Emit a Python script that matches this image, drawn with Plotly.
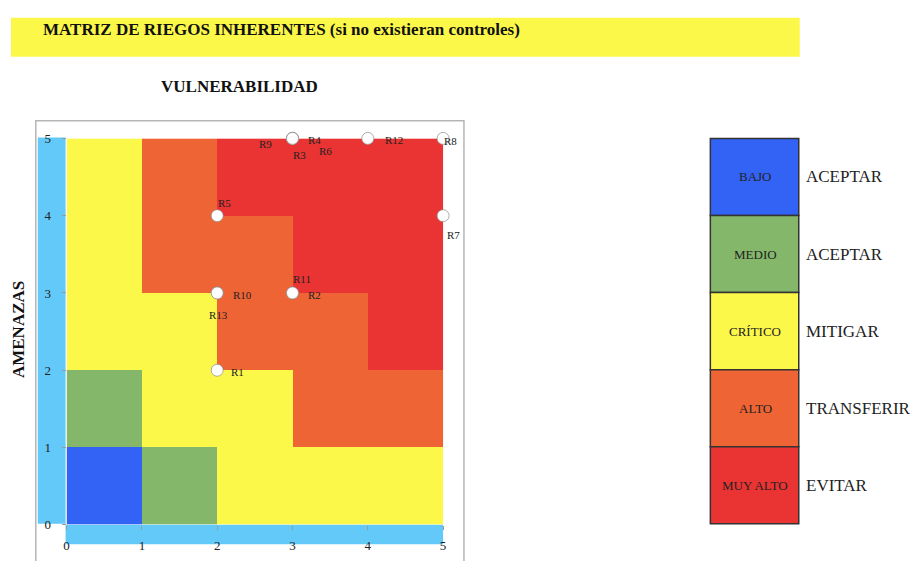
import plotly.graph_objects as go

W, H = 917, 561

# ---------------- data ----------------
level_names = ["BAJO", "MEDIO", "CRÍTICO", "ALTO", "MUY ALTO"]
level_actions = ["ACEPTAR", "ACEPTAR", "MITIGAR", "TRANSFERIR", "EVITAR"]
level_colors = ["#3363F5", "#84B76A", "#FCF84A", "#EF6435", "#EA3433"]

vuln_centers = [0.5, 1.5, 2.5, 3.5, 4.5]   # VULNERABILIDAD cells
amen_centers = [0.5, 1.5, 2.5, 3.5, 4.5]   # AMENAZAS cells
# risk level (1..5) per cell, rows from AMENAZAS 0-1 up to 4-5
risk_matrix = [
    [1, 2, 3, 3, 3],
    [2, 3, 3, 4, 4],
    [3, 3, 4, 4, 5],
    [3, 4, 4, 5, 5],
    [3, 4, 5, 5, 5],
]

risk_names = ["R1", "R2", "R3", "R4", "R5", "R6", "R7", "R8", "R9", "R10", "R11", "R12", "R13"]
risk_vuln = [2, 3, 3, 3, 2, 3, 5, 5, 3, 2, 3, 4, 2]
risk_amen = [2, 3, 5, 5, 4, 5, 4, 5, 5, 3, 3, 5, 3]

tick_vals = [0, 1, 2, 3, 4, 5]

# label offsets (pixels) – styling only
label_shift = {
    "R1": (20, -2), "R2": (22, -2), "R3": (7, -17), "R4": (22, -2),
    "R5": (7, 13), "R6": (33, -13), "R7": (10, -19), "R8": (7, -3),
    "R9": (-27, -6), "R10": (25, -2), "R11": (10, 14), "R12": (26, -2),
    "R13": (1, -22),
}

def px(x):
    return x / W

def py(y):
    return 1 - y / H

SERIF = "Liberation Serif"

# discrete colorscale
cs = []
n = len(level_colors)
for i, c in enumerate(level_colors):
    lo = max(0, (i - 0.5) / (n - 1))
    hi = min(1, (i + 0.5) / (n - 1))
    cs.append([lo, c])
    cs.append([hi, c])

fig = go.Figure()
fig.add_trace(go.Heatmap(
    x=vuln_centers, y=amen_centers, z=risk_matrix,
    zmin=1, zmax=5, colorscale=cs, showscale=False, hoverinfo="skip",
))
fig.add_trace(go.Scatter(
    x=risk_vuln, y=risk_amen, mode="markers",
    marker=dict(size=12, color="white", line=dict(color="rgba(140,140,140,0.7)", width=1)),
    cliponaxis=False, hoverinfo="text", text=risk_names, showlegend=False,
))

annotations = []
for name, xv, yv in zip(risk_names, risk_vuln, risk_amen):
    dx, dy = label_shift[name]
    annotations.append(dict(
        x=xv, y=yv, xref="x", yref="y", text=name, showarrow=False,
        xshift=dx, yshift=dy, font=dict(family=SERIF, size=11, color="#222"),
    ))

shapes = []
# chart frame
shapes.append(dict(type="rect", xref="paper", yref="paper",
                   x0=px(33), x1=px(464), y0=py(580), y1=py(117),
                   line=dict(color="#b5b5b5", width=1.5), fillcolor="white", layer="below"))
# light-blue axis strips
shapes.append(dict(type="rect", xref="paper", yref="paper",
                   x0=px(35), x1=px(63), y0=py(531), y1=py(134),
                   line=dict(width=0), fillcolor="#63C9F9", layer="below"))
shapes.append(dict(type="rect", xref="paper", yref="paper",
                   x0=px(63), x1=px(443), y0=py(552), y1=py(532),
                   line=dict(width=0), fillcolor="#63C9F9", layer="below"))
# title band
shapes.append(dict(type="rect", xref="paper", yref="paper",
                   x0=px(8), x1=px(802), y0=py(51), y1=py(11),
                   line=dict(width=0), fillcolor="#FCF84A", layer="below"))

annotations.append(dict(
    x=px(38), y=py(23), xref="paper", yref="paper", xanchor="left", yanchor="middle",
    text="<b>MATRIZ DE RIEGOS INHERENTES (si no existieran controles)</b>", showarrow=False,
    font=dict(family=SERIF, size=17, color="#111"),
))
annotations.append(dict(
    x=px(238), y=py(82), xref="paper", yref="paper", xanchor="center", yanchor="middle",
    text="<b>VULNERABILIDAD</b>", showarrow=False,
    font=dict(family=SERIF, size=17, color="#111"),
))
annotations.append(dict(
    x=px(15), y=py(331), xref="paper", yref="paper", xanchor="center", yanchor="middle",
    text="<b>AMENAZAS</b>", showarrow=False, textangle=-90,
    font=dict(family=SERIF, size=17, color="#111"),
))

# legend boxes
top, step = 135, 79.2
for i, (nm, act, col) in enumerate(zip(level_names, level_actions, level_colors)):
    y0 = top + i * step
    shapes.append(dict(type="rect", xref="paper", yref="paper",
                       x0=px(712), x1=px(801), y0=py(y0 + step), y1=py(y0),
                       line=dict(color="#333", width=1.5), fillcolor=col))
    annotations.append(dict(
        x=px(757), y=py(y0 + step / 2), xref="paper", yref="paper",
        xanchor="center", yanchor="middle", text=nm, showarrow=False,
        font=dict(family=SERIF, size=13, color="#222"),
    ))
    annotations.append(dict(
        x=px(806), y=py(y0 + step / 2), xref="paper", yref="paper",
        xanchor="left", yanchor="middle", text=act, showarrow=False,
        font=dict(family=SERIF, size=17, color="#222"),
    ))

fig.update_layout(
    width=W, height=H, margin=dict(l=0, r=0, t=0, b=0),
    paper_bgcolor="white", plot_bgcolor="white",
    shapes=shapes, annotations=annotations, showlegend=False,
    xaxis=dict(range=[0, 5], domain=[px(64), px(443)], tickvals=tick_vals,
               ticks="outside", ticklen=4, tickcolor="#9a9a9a", showgrid=False,
               zeroline=False, showline=False, ticklabelstandoff=5,
               tickfont=dict(family=SERIF, size=13, color="#222")),
    yaxis=dict(range=[0, 5], domain=[py(532), py(135)], tickvals=tick_vals,
               ticks="outside", ticklen=4, tickcolor="#9a9a9a", showgrid=False,
               zeroline=False, showline=False, ticklabelstandoff=8,
               tickfont=dict(family=SERIF, size=13, color="#222")),
)

fig.write_html(
    "out.html",
    post_script="document.body.style.margin='0';document.body.style.overflow='hidden';",
)
